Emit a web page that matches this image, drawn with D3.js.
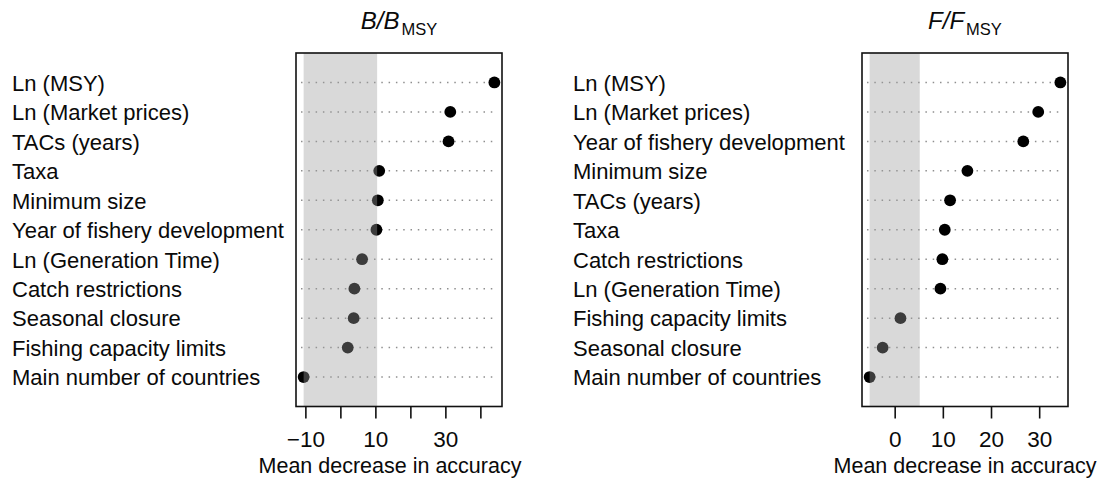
<!DOCTYPE html>
<html>
<head>
<meta charset="utf-8">
<script src="https://cdn.jsdelivr.net/npm/d3@7"></script>
<style>
  html, body { margin: 0; padding: 0; background: #fff; }
  svg { display: block; font-family: "Liberation Sans", Arial, Helvetica, sans-serif; }
</style>
</head>
<body>
<svg id="chart" width="1105" height="486"></svg>
<script>
// Variable importance (mean decrease in accuracy), B/BMSY model
const labelsB = [
  "Ln (MSY)", "Ln (Market prices)", "TACs (years)", "Taxa", "Minimum size",
  "Year of fishery development", "Ln (Generation Time)", "Catch restrictions",
  "Seasonal closure", "Fishing capacity limits", "Main number of countries"
];
const valuesB = [44.0, 31.4, 30.9, 11.1, 10.7, 10.3, 6.2, 4.0, 3.8, 2.1, -10.5];
const ticksB = [-10, 0, 10, 20, 30, 40];
const tickLabelsB = ["\u221210", "", "10", "", "30", ""];

// Variable importance (mean decrease in accuracy), F/FMSY model
const labelsF = [
  "Ln (MSY)", "Ln (Market prices)", "Year of fishery development", "Minimum size",
  "TACs (years)", "Taxa", "Catch restrictions", "Ln (Generation Time)",
  "Fishing capacity limits", "Seasonal closure", "Main number of countries"
];
const valuesF = [34.4, 29.8, 26.7, 15.1, 11.5, 10.4, 9.9, 9.5, 1.2, -2.5, -5.2];
const ticksF = [0, 10, 20, 30];
const tickLabelsF = ["0", "10", "20", "30"];

const axisTitle = "Mean decrease in accuracy";

const svg = d3.select("#chart");
const plotTop = 53, plotBottom = 406.5;

function panel(opts) {
  const { labels, values, ticks, tickLabels, x0, x1, labelX, titleMain, titleSub, axisTitleX } = opts;
  const g = svg.append("g");

  // x domain: data range widened by 4% each side
  const lo = d3.min(values), hi = d3.max(values);
  const pad = (hi - lo) * 0.04;
  const x = d3.scaleLinear().domain([lo - pad, hi + pad]).range([x0, x1]);
  const y = d3.scalePoint().domain(labels).range([plotTop, plotBottom]).padding(1);

  // dotted guide lines
  g.selectAll("line.guide").data(labels).join("line")
    .attr("class", "guide")
    .attr("x1", x0 + 5).attr("x2", x1 - 4)
    .attr("y1", d => y(d)).attr("y2", d => y(d))
    .attr("stroke", "#8f8f8f").attr("stroke-width", 1.5)
    .attr("stroke-dasharray", "1.5,5.8");

  // points
  g.selectAll("circle").data(labels).join("circle")
    .attr("cx", (d, i) => x(values[i]))
    .attr("cy", d => y(d))
    .attr("r", 5.9)
    .attr("fill", "#000");

  // translucent band over +/- |minimum importance|
  const m = Math.abs(lo);
  g.append("rect")
    .attr("x", x(-m)).attr("y", plotTop)
    .attr("width", x(m) - x(-m)).attr("height", plotBottom - plotTop)
    .attr("fill", "rgb(156,156,156)").attr("fill-opacity", 0.385);

  // frame
  g.append("rect")
    .attr("x", x0).attr("y", plotTop)
    .attr("width", x1 - x0).attr("height", plotBottom - plotTop)
    .attr("fill", "none").attr("stroke", "#111").attr("stroke-width", 1.6);

  // variable names
  g.selectAll("text.lab").data(labels).join("text")
    .attr("class", "lab")
    .attr("x", labelX).attr("y", d => y(d) + 8.3)
    .attr("font-size", 22).attr("fill", "#0a0a0a")
    .text(d => d);

  // x axis
  const ax = g.append("g")
    .attr("transform", `translate(0,${plotBottom})`)
    .call(d3.axisBottom(x).tickValues(ticks).tickSize(12).tickSizeOuter(0)
      .tickFormat((d, i) => tickLabels[i]));
  ax.select(".domain").remove();
  ax.selectAll(".tick line").attr("stroke", "#111").attr("stroke-width", 1.6);
  ax.selectAll(".tick text")
    .attr("y", 40).attr("dy", 0)
    .attr("font-size", 22.5).attr("font-family", "Liberation Sans, Arial, sans-serif")
    .attr("fill", "#0a0a0a");

  g.append("text")
    .attr("x", axisTitleX).attr("y", 473)
    .attr("text-anchor", "middle")
    .attr("font-size", 21.5).attr("fill", "#0a0a0a")
    .text(axisTitle);

  // panel title: italic ratio with upright subscript
  const cx = (x0 + x1) / 2;
  const t = g.append("text")
    .attr("x", cx).attr("y", 28.5)
    .attr("text-anchor", "middle")
    .attr("fill", "#0a0a0a");
  t.append("tspan").attr("font-style", "italic").attr("font-size", 24).text(titleMain);
  t.append("tspan").attr("font-size", 16.5).attr("dy", 6.5).attr("dx", 2).text(titleSub);
}

panel({
  labels: labelsB, values: valuesB, ticks: ticksB, tickLabels: tickLabelsB,
  x0: 296, x1: 502, labelX: 12, titleMain: "B/B", titleSub: "MSY", axisTitleX: 390
});
panel({
  labels: labelsF, values: valuesF, ticks: ticksF, tickLabels: tickLabelsF,
  x0: 862, x1: 1068, labelX: 573, titleMain: "F/F", titleSub: "MSY", axisTitleX: 965
});
</script>
</body>
</html>
